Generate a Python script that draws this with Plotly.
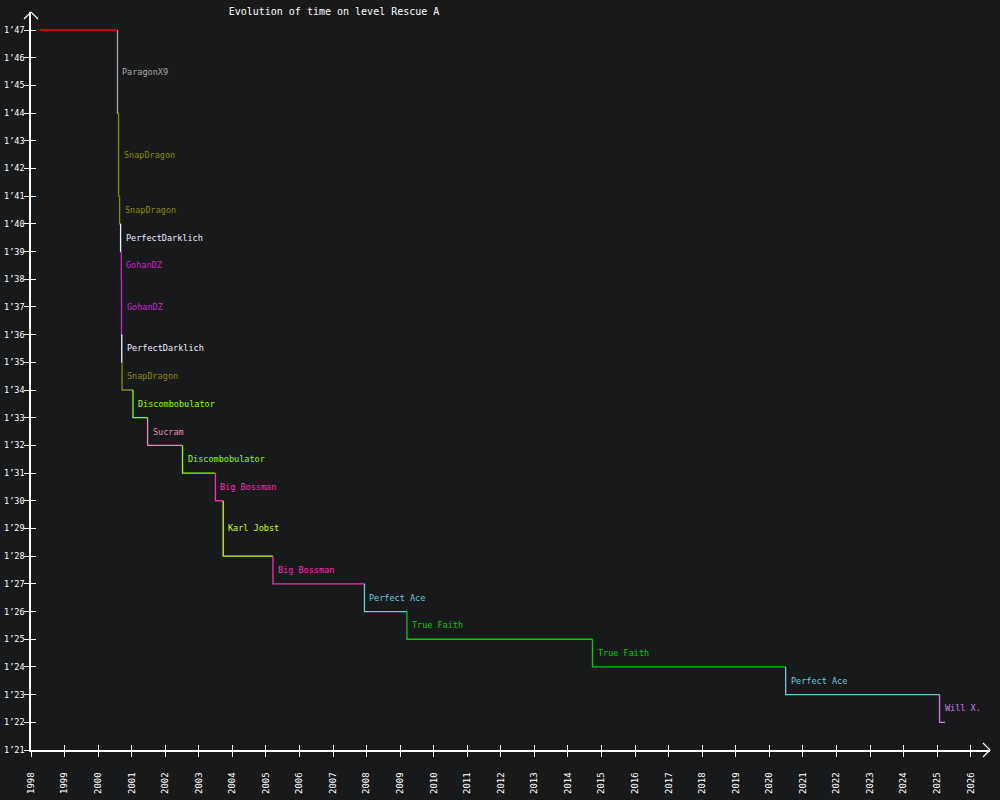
"""plot.py - step chart of record times on level Rescue A."""
import plotly.graph_objects as go

# first (unlabelled) time and when it was set
start_date = "1998-04-04"
start_time = 107
today = "2025-03-27"

holders = ["ParagonX9", "SnapDragon", "SnapDragon", "PerfectDarklich", "GohanDZ",
           "GohanDZ", "PerfectDarklich", "SnapDragon", "Discombobulator", "Sucram",
           "Discombobulator", "Big Bossman", "Karl Jobst", "Big Bossman", "Perfect Ace",
           "True Faith", "True Faith", "Perfect Ace", "Will X."]
dates = ["2000-07-30", "2000-08-11", "2000-08-22", "2000-09-02", "2000-09-10",
         "2000-09-12", "2000-09-15", "2000-09-18", "2001-01-15", "2001-06-23",
         "2002-07-08", "2003-07-01", "2003-09-24", "2005-03-18", "2007-12-09",
         "2009-03-15", "2014-09-25", "2020-06-27", "2025-01-27"]
times_s = [104, 101, 100, 99, 98, 96, 95, 94, 93, 92, 91, 90, 88, 87, 86, 85, 84, 83, 82]

year_ticks = list(range(1998, 2027))
y_ticks = list(range(81, 108))
y_labels = [f"{t // 60}\u2019{t % 60:02d}" for t in y_ticks]

colors = {
    "ParagonX9": "#a8a8a8", "SnapDragon": "#8a8a00", "PerfectDarklich": "#eeeeff",
    "GohanDZ": "#d020d0", "Discombobulator": "#88ff00", "Sucram": "#e888bc",
    "Big Bossman": "#ff28b4", "Karl Jobst": "#ccff00", "Perfect Ace": "#66ccdc",
    "True Faith": "#00cc00", "Will X.": "#d878f4",
}
BG = "#18191b"
MONO = "DejaVu Sans Mono"

fig = go.Figure()

# initial record (on the overlay axes so their inner ticks get drawn too)
fig.add_trace(go.Scatter(x=[start_date, dates[0]], y=[start_time, start_time],
                         mode="lines", line=dict(color="#ff0000", width=1.3),
                         xaxis="x2", yaxis="y2",
                         hoverinfo="skip", showlegend=False))

prev = start_time
for i, (who, d, t) in enumerate(zip(holders, dates, times_s)):
    nxt = dates[i + 1] if i + 1 < len(dates) else today
    c = colors[who]
    fig.add_trace(go.Scatter(x=[d, d, nxt], y=[prev, t, t], mode="lines",
                             line=dict(color=c, width=1.3),
                             hoverinfo="skip", showlegend=False))
    fig.add_annotation(x=d, y=(prev + t) / 2, text=who, showarrow=False,
                       xanchor="left", xshift=3, yanchor="middle",
                       font=dict(family=MONO, size=8.5, color=c))
    prev = t

# arrow tips on the axes
fig.add_shape(type="path", xref="paper", yref="paper", xsizemode="pixel",
              ysizemode="pixel", xanchor=1, yanchor=0,
              path="M -7,-7 L 0,0 L -7,7", line=dict(color="white", width=1.2))
fig.add_shape(type="path", xref="paper", yref="paper", xsizemode="pixel",
              ysizemode="pixel", xanchor=0, yanchor=1,
              path="M -7,-7 L 0,0 L 7,-7", line=dict(color="white", width=1.2))

xr = ["1998-01-01", "2026-07-30"]
yr = [81, 107.65]
tickx = [f"{y}-01-01" for y in year_ticks]

fig.update_layout(
    width=1000, height=800,
    paper_bgcolor=BG, plot_bgcolor=BG,
    margin=dict(l=31, r=10, t=12, b=50),
    title=dict(text="Evolution of time on level Rescue A", x=0.334, xanchor="center",
               y=0.99, yanchor="top",
               font=dict(family=MONO, size=10, color="white")),
    xaxis=dict(type="date", range=xr, tickmode="array", tickvals=tickx,
               ticktext=[str(y) for y in year_ticks], tickangle=-90,
               ticks="outside", ticklen=5, tickcolor="white", tickwidth=1.2,
               ticklabelstandoff=12,
               showline=True, linecolor="white", linewidth=1.5,
               showgrid=False, zeroline=False, automargin=False,
               tickfont=dict(family=MONO, size=9, color="white")),
    xaxis2=dict(type="date", range=xr, overlaying="x", anchor="y2", side="bottom",
                tickmode="array", tickvals=tickx, showticklabels=False,
                ticks="inside", ticklen=5, tickcolor="white", tickwidth=1.2,
                showline=False, showgrid=False, zeroline=False, automargin=False),
    yaxis=dict(range=yr, tickmode="array", tickvals=y_ticks, ticktext=y_labels,
               ticks="outside", ticklen=5, tickcolor="white", tickwidth=1.2,
               ticklabelstandoff=-2,
               showline=True, linecolor="white", linewidth=1.5,
               showgrid=False, zeroline=False, automargin=False,
               tickfont=dict(family=MONO, size=8.5, color="white")),
    yaxis2=dict(range=yr, overlaying="y", anchor="x2", side="left",
                tickmode="array", tickvals=y_ticks, showticklabels=False,
                ticks="inside", ticklen=5, tickcolor="white", tickwidth=1.2,
                showline=False, showgrid=False, zeroline=False, automargin=False),
)

# drop the page's default body margin so the chart fills the window
fig.write_html("out.html", config={"displayModeBar": False},
               post_script="document.body.style.margin='0';")
